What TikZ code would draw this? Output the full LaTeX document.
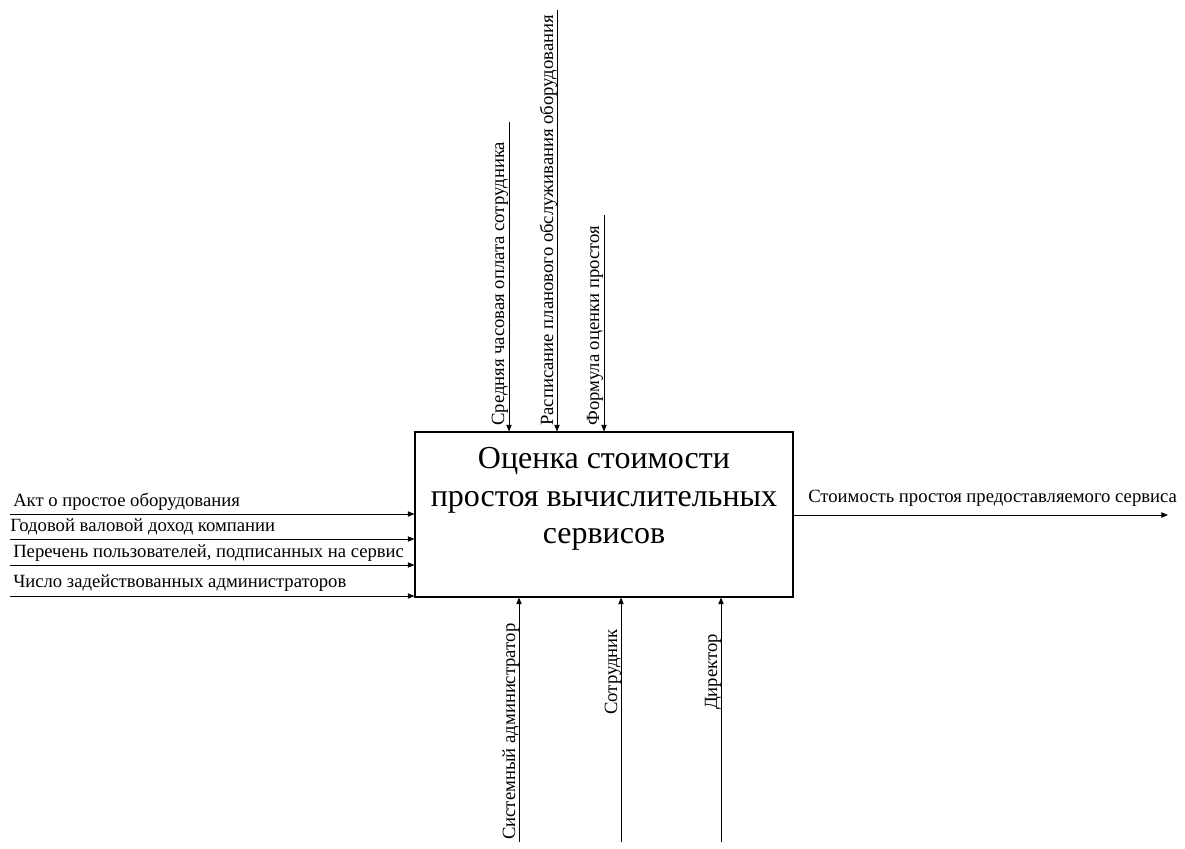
\documentclass[tikz,border=0pt]{standalone}
\usepackage{fontspec}
\setmainfont{Liberation Serif}
\usetikzlibrary{arrows.meta}

\tikzstyle{func} = [draw, line width=0.8pt, minimum width=283.5pt, minimum height=123.75pt, inner sep=0pt]
\tikzstyle{title} = [align=center, font=\fontsize{24}{28.3}\selectfont]
\tikzstyle{lbl} = [inner sep=0pt, font=\fontsize{14}{16}\selectfont]
\tikzstyle{vlbl} = [lbl, rotate=90, anchor=base west]
\tikzstyle{flow} = [line width=0.6pt, -{Triangle[length=5pt, width=4pt]}]

\begin{document}
\begin{tikzpicture}[x=0.75pt, y=-0.75pt]
\useasboundingbox (0,0) rectangle (1185,849);
%blok
\node[func] (box) at (604,514.5) {};
\node[title] (name) at (604,499) {Оценка стоимости\\простоя вычислительных\\сервисов};
%begin inputs
\coordinate (in1) at (10,514);
\coordinate (in2) at (10,539);
\coordinate (in3) at (10,565);
\coordinate (in4) at (10,596);
\draw[flow] (in1) -- (in1 -| box.west);
\draw[flow] (in2) -- (in2 -| box.west);
\draw[flow] (in3) -- (in3 -| box.west);
\draw[flow] (in4) -- (in4 -| box.west);
\node[lbl, anchor=base west] (l1) at (13,506) {Акт о простое оборудования};
\node[lbl, anchor=base west] (l2) at (10,531) {Годовой валовой доход компании};
\node[lbl, anchor=base west] (l3) at (13,557) {Перечень пользователей, подписанных на сервис};
\node[lbl, anchor=base west] (l4) at (13,587) {Число задействованных администраторов};
%end inputs
%begin output
\coordinate (out1) at (1168,515);
\draw[flow] (out1 -| box.east) -- (out1);
\node[lbl, anchor=base west] (o1) at (808,502) {Стоимость простоя предоставляемого сервиса};
%end output
%begin controls
\coordinate (c1) at (509,122);
\coordinate (c2) at (557,10);
\coordinate (c3) at (604,215);
\draw[flow] (c1) -- (c1 |- box.north);
\draw[flow] (c2) -- (c2 |- box.north);
\draw[flow] (c3) -- (c3 |- box.north);
\node[vlbl] (t1) at (504,426) {Средняя часовая оплата сотрудника};
\node[vlbl] (t2) at (553,426) {Расписание планового обслуживания оборудования};
\node[vlbl] (t3) at (599,426) {Формула оценки простоя};
%end controls
%begin mechanisms
\coordinate (m1) at (519,842);
\coordinate (m2) at (621,842);
\coordinate (m3) at (721,842);
\draw[flow] (m1) -- (m1 |- box.south);
\draw[flow] (m2) -- (m2 |- box.south);
\draw[flow] (m3) -- (m3 |- box.south);
\node[vlbl] (b1) at (515,840) {Системный администратор};
\node[vlbl] (b2) at (617,715) {Сотрудник};
\node[vlbl] (b3) at (717,710) {Директор};
%end mechanisms
\end{tikzpicture}
\end{document}
